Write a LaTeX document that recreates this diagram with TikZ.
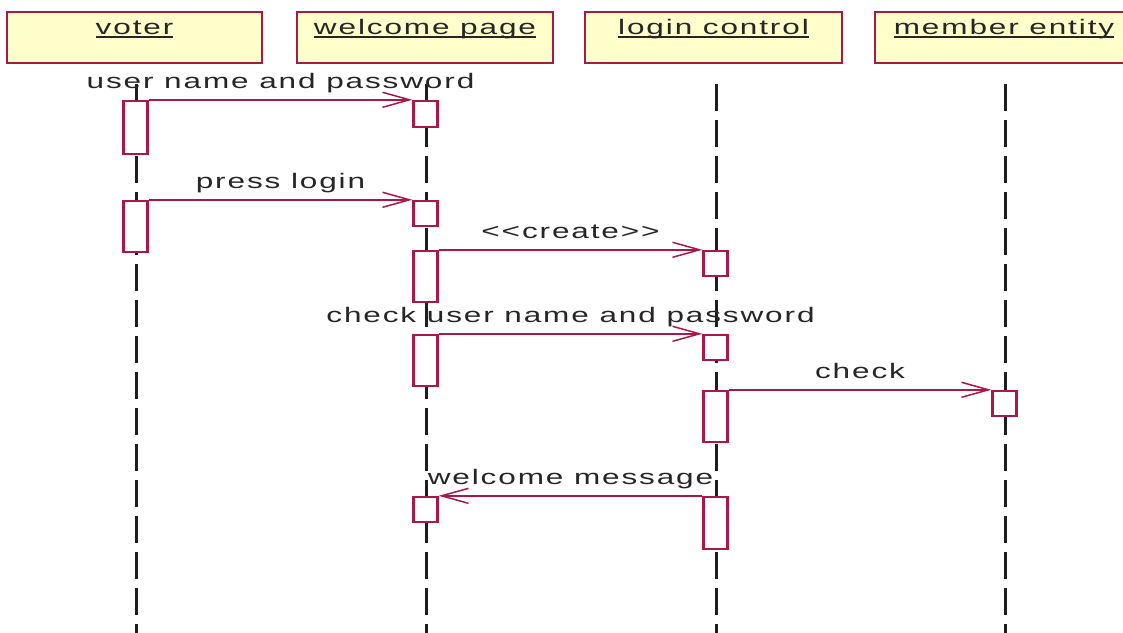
\documentclass[tikz,border=0pt]{standalone}
\usepackage{fontspec}
\setmainfont{Liberation Sans}
\newfontfamily\lblfont[FakeStretch=1.5,LetterSpace=9]{Liberation Sans}
\usetikzlibrary{arrows.meta}
\definecolor{crim}{RGB}{168,24,72}
\definecolor{headfill}{RGB}{255,255,204}
\definecolor{lifeink}{RGB}{30,30,30}
\newcommand\ulin[1]{\setbox0\hbox{#1}\rlap{\rule[-3.5pt]{\wd0}{1.4pt}}\box0}
\begin{document}
\begin{tikzpicture}[x=1pt,y=-1pt,
  head/.style={draw=crim, line width=2.4pt, fill=headfill, minimum width=#1, inner xsep=0pt, inner ysep=0pt,
    text height=22pt, text depth=29pt, text=black!85, font=\lblfont\fontsize{21}{24}\selectfont},
  act/.style={draw=crim, fill=white, line width=2.4pt, minimum width=24pt, minimum height=#1, inner sep=0pt},
  life/.style={draw=lifeink, line width=3pt, dash pattern=on 27pt off 9pt},
  msg/.style={draw=crim, line width=1.5pt, -{Straight Barb[length=27pt,width=15pt,line width=1.5pt]}},
  lbl/.style={anchor=base, yshift=11pt, inner sep=0pt, text=black!85, font=\lblfont\fontsize{21}{24}\selectfont}]
\clip (0,0) rectangle (1123,632);
\fill[white] (0,0) rectangle (1123,632);
% heads
\node[head=255pt] (voter) at (134.5,37.5) {\ulin{voter}};
\node[head=256pt] (welcome) at (425,37.5) {\ulin{welcome page}};
\node[head=257pt] (login) at (713.5,37.5) {\ulin{login control}};
\node[head=258pt] (member) at (1004,37.5) {\ulin{member entity}};
% lifelines
\coordinate (vt) at (136,84); \coordinate (vb) at (136,640);
\coordinate (wt) at (426,84); \coordinate (wb) at (426,640);
\coordinate (lt) at (716,84); \coordinate (lb) at (716,640);
\coordinate (mt) at (1005,84); \coordinate (mb) at (1005,640);
\draw[life] (vt) -- (vb);
\draw[life] (wt) -- (wb);
\draw[life] (lt) -- (lb);
\draw[life] (mt) -- (mb);
% activations
\node[act=53pt] (v1) at (135.5,127.5) {};
\node[act=26pt] (w1) at (425.5,114) {};
\node[act=51pt] (v2) at (135.5,226.5) {};
\node[act=25pt] (w2) at (425.5,213.5) {};
\node[act=51pt] (w3) at (425.5,276.5) {};
\node[act=25pt] (l1) at (715.5,263.5) {};
\node[act=51pt] (w4) at (425.5,360.5) {};
\node[act=25pt] (l2) at (715.5,347.5) {};
\node[act=51pt] (l3) at (715.5,416.5) {};
\node[act=25pt] (m1) at (1004.5,403.5) {};
\node[act=25pt] (w5) at (425.5,509.5) {};
\node[act=52pt] (l4) at (715.5,523) {};
% messages
\draw[msg] (v1.north east) -- (w1.north west) node[lbl, midway] {user name and password};
\draw[msg] (v2.north east) -- (w2.north west) node[lbl, midway] {press login};
\draw[msg] (w3.north east) -- (l1.north west) node[lbl, midway] {<{}<create>{}>};
\draw[msg] (w4.north east) -- (l2.north west) node[lbl, midway] {check user name and password};
\draw[msg] (l3.north east) -- (m1.north west) node[lbl, midway] {check};
\draw[msg] (l4.north west) -- (w5.north east) node[lbl, midway] {welcome message};
\end{tikzpicture}
\end{document}
